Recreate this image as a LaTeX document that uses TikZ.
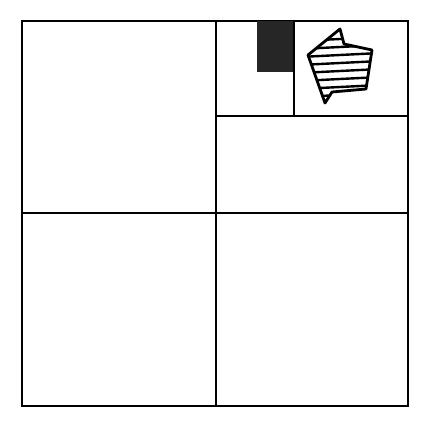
\documentclass[tikz,border=0pt]{standalone}
\begin{document}
\begin{tikzpicture}[x=1pt,y=-1pt,
  frame/.style={line width=1.8pt, line join=miter},
  hatchshape/.style={line width=2.8pt, line join=round}]
\useasboundingbox (0,0) rectangle (423,426);
% outer square and divisions
\draw[frame] (22,21) rectangle (408,406);
\draw[frame] (216,21) -- (216,406);
\draw[frame] (22,213) -- (408,213);
\draw[frame] (216,116) -- (408,116);
\draw[frame] (294,21) -- (294,116);
% black block
\fill[black!85] (257,21) rectangle (293,72);
% hatched arrow shape
\begin{scope}
  \clip (340,29) -- (344,44) -- (372,50) -- (366,89) -- (332,92) -- (325,103) -- (308,55) -- cycle;
  \foreach \k in {0,...,9} {
    \draw[line width=2.4pt] (300,{41+8*\k}) -- (380,{37+8*\k});
  }
\end{scope}
\draw[hatchshape] (340,29) -- (344,44) -- (372,50) -- (366,89) -- (332,92) -- (325,103) -- (308,55) -- cycle;
\end{tikzpicture}
\end{document}
